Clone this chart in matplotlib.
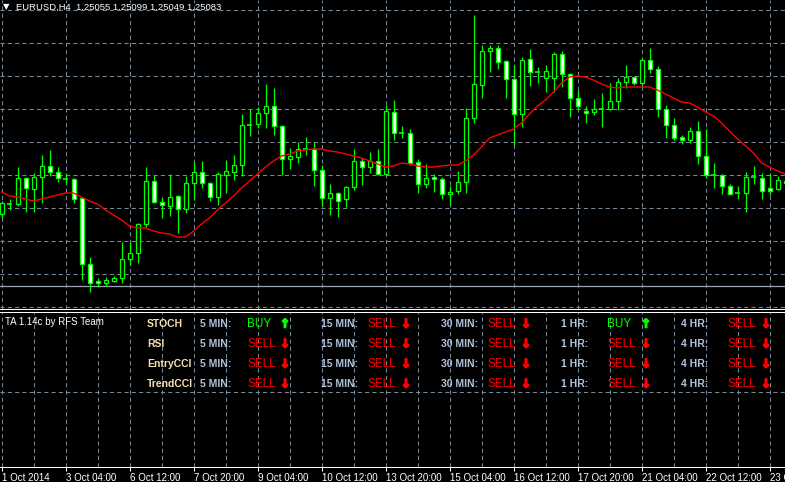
import matplotlib
matplotlib.use('Agg')
import matplotlib.pyplot as plt
import matplotlib.patheffects as pe
import numpy as np

plt.rcParams['font.family'] = ['Liberation Sans', 'DejaVu Sans']

symbol = 'EURUSD,H4'

# H4 bars
opens = [1.2475, 1.2485, 1.2485, 1.2511, 1.2500, 1.2512, 1.2523, 1.2517, 1.2510, 1.2510,
         1.2491, 1.2425, 1.2408, 1.2406, 1.2408, 1.2411, 1.2430, 1.2436, 1.2465, 1.2508,
         1.2487, 1.2483, 1.2493, 1.2480, 1.2506, 1.2517, 1.2506, 1.2492, 1.2514, 1.2517,
         1.2524, 1.2564, 1.2565, 1.2576, 1.2583, 1.2563, 1.2530, 1.2532, 1.2540, 1.2540,
         1.2519, 1.2491, 1.2496, 1.2490, 1.2502, 1.2528, 1.2522, 1.2528, 1.2515, 1.2577,
         1.2556, 1.2556, 1.2527, 1.2505, 1.2512, 1.2510, 1.2495, 1.2498, 1.2507, 1.2571,
         1.2604, 1.2638, 1.2641, 1.2628, 1.2610, 1.2575, 1.2630, 1.2617, 1.2611, 1.2611,
         1.2635, 1.2615, 1.2591, 1.2578, 1.2577, 1.2580, 1.2580, 1.2588, 1.2607, 1.2612,
         1.2606, 1.2629, 1.2620, 1.2580, 1.2564, 1.2552, 1.2549, 1.2558, 1.2533, 1.2514,
         1.2514, 1.2503, 1.2496, 1.2496, 1.2512, 1.2511, 1.2501, 1.2500, 1.25055]
highs = [1.2488, 1.2490, 1.2522, 1.2512, 1.2516, 1.2534, 1.2539, 1.2522, 1.2516, 1.2511,
         1.2492, 1.2432, 1.2411, 1.2412, 1.2413, 1.2447, 1.2447, 1.2466, 1.2522, 1.2514,
         1.2492, 1.2515, 1.2494, 1.2513, 1.2527, 1.2528, 1.2507, 1.2517, 1.2529, 1.2534,
         1.2575, 1.2580, 1.2582, 1.2605, 1.2601, 1.2564, 1.2541, 1.2547, 1.2552, 1.2547,
         1.2524, 1.2505, 1.2497, 1.2503, 1.2540, 1.2531, 1.2537, 1.2540, 1.2584, 1.2589,
         1.2563, 1.2560, 1.2530, 1.2525, 1.2515, 1.2512, 1.2503, 1.2518, 1.2581, 1.2674,
         1.2644, 1.2644, 1.2644, 1.2629, 1.2624, 1.2632, 1.2640, 1.2622, 1.2624, 1.2637,
         1.2638, 1.2616, 1.2599, 1.2583, 1.2590, 1.2596, 1.2606, 1.2611, 1.2624, 1.2613,
         1.2631, 1.2641, 1.2623, 1.2584, 1.2571, 1.2554, 1.2562, 1.2568, 1.2560, 1.2526,
         1.2515, 1.2505, 1.2503, 1.2517, 1.2523, 1.2516, 1.2516, 1.2513, 1.25099]
lows = [1.2471, 1.2479, 1.2483, 1.2477, 1.2477, 1.2486, 1.2513, 1.2507, 1.2505, 1.2486,
        1.2409, 1.2397, 1.2402, 1.2403, 1.2407, 1.2406, 1.2424, 1.2426, 1.2462, 1.2486,
        1.2471, 1.2473, 1.2456, 1.2476, 1.2489, 1.2501, 1.2488, 1.2484, 1.2496, 1.2509,
        1.2513, 1.2553, 1.2561, 1.2561, 1.2554, 1.2514, 1.2520, 1.2526, 1.2534, 1.2503,
        1.2483, 1.2474, 1.2472, 1.2482, 1.2499, 1.2504, 1.2516, 1.2514, 1.2514, 1.2549,
        1.2551, 1.2524, 1.2496, 1.2501, 1.2497, 1.2490, 1.2484, 1.2495, 1.2496, 1.2566,
        1.2591, 1.2617, 1.2620, 1.2591, 1.2544, 1.2562, 1.2603, 1.2606, 1.2597, 1.2597,
        1.2602, 1.2572, 1.2580, 1.2566, 1.2574, 1.2562, 1.2579, 1.2579, 1.2601, 1.2604,
        1.2602, 1.2616, 1.2572, 1.2551, 1.2549, 1.2545, 1.2546, 1.2525, 1.2511, 1.2501,
        1.2495, 1.2494, 1.2490, 1.2477, 1.2505, 1.2490, 1.2494, 1.2499, 1.25049]
closes = [1.2486, 1.2485, 1.2511, 1.2501, 1.2512, 1.2523, 1.2517, 1.2511, 1.2510, 1.2490,
          1.2425, 1.2406, 1.2406, 1.2409, 1.2411, 1.2430, 1.2436, 1.2465, 1.2508, 1.2487,
          1.2484, 1.2492, 1.2480, 1.2506, 1.2517, 1.2506, 1.2492, 1.2515, 1.2518, 1.2524,
          1.2564, 1.2564, 1.2576, 1.2583, 1.2563, 1.2530, 1.2533, 1.2540, 1.2540, 1.2519,
          1.2491, 1.2496, 1.2488, 1.2502, 1.2528, 1.2522, 1.2528, 1.2515, 1.2578, 1.2556,
          1.2556, 1.2526, 1.2505, 1.2511, 1.2510, 1.2495, 1.2497, 1.2507, 1.2571, 1.2605,
          1.2638, 1.2641, 1.2627, 1.2610, 1.2575, 1.2629, 1.2617, 1.2617, 1.2618, 1.2635,
          1.2615, 1.2591, 1.2583, 1.2576, 1.2580, 1.2580, 1.2588, 1.2607, 1.2612, 1.2606,
          1.2629, 1.2620, 1.2580, 1.2564, 1.2551, 1.2549, 1.2558, 1.2533, 1.2514, 1.2514,
          1.2503, 1.2495, 1.2496, 1.2512, 1.2512, 1.2498, 1.2498, 1.2509, 1.25083]
# red moving average
ma = [1.2497, 1.2493, 1.2492, 1.2490, 1.2488, 1.2490, 1.2492, 1.2494, 1.2496, 1.2496,
      1.2492, 1.2488, 1.2485, 1.2479, 1.2474, 1.2469, 1.2463, 1.2461, 1.2461, 1.2458,
      1.2456, 1.2455, 1.2452, 1.2452, 1.2458, 1.2465, 1.2471, 1.2479, 1.2486, 1.2493,
      1.2501, 1.2508, 1.2515, 1.2522, 1.2528, 1.2533, 1.2535, 1.2538, 1.2539, 1.2540,
      1.2540, 1.2538, 1.2537, 1.2535, 1.2533, 1.2531, 1.2528, 1.2525, 1.2522, 1.2523,
      1.2526, 1.2525, 1.2523, 1.2522, 1.2522, 1.2523, 1.2524, 1.2524, 1.2528, 1.2534,
      1.2542, 1.2551, 1.2554, 1.2557, 1.2560, 1.2566, 1.2575, 1.2583, 1.2589, 1.2597,
      1.2606, 1.2612, 1.2613, 1.2612, 1.2609, 1.2605, 1.2602, 1.2601, 1.2602, 1.2602,
      1.2602, 1.2602, 1.2599, 1.2595, 1.2591, 1.2587, 1.2586, 1.2582, 1.2577, 1.2573,
      1.2566, 1.2558, 1.2550, 1.2543, 1.2536, 1.2526, 1.2522, 1.2518, 1.2515]
hline_price = 1.2403

date_labels = ['1 Oct 2014', '3 Oct 04:00', '6 Oct 12:00', '7 Oct 20:00', '9 Oct 04:00',
               '10 Oct 12:00', '13 Oct 20:00', '15 Oct 04:00', '16 Oct 12:00',
               '17 Oct 20:00', '21 Oct 04:00', '22 Oct 12:00', '23 Oct 20:00']

# indicator panel
panel_title = 'TA 1.14c by RFS Team'
indicators = ['STOCH', 'RSI', 'EntryCCI', 'TrendCCI']
timeframes = ['5 MIN:', '15 MIN:', '30 MIN:', '1 HR:', '4 HR:']
signals = [['BUY', 'SELL', 'SELL', 'BUY', 'SELL'],
           ['SELL', 'SELL', 'SELL', 'SELL', 'SELL'],
           ['SELL', 'SELL', 'SELL', 'SELL', 'SELL'],
           ['SELL', 'SELL', 'SELL', 'SELL', 'SELL']]

W, H = 785, 482
GREEN = '#00ff00'
GRID = '#778899'
dash = (0, (4, 3))

o = np.array(opens); hi = np.array(highs); lo = np.array(lows); c = np.array(closes)
x = np.arange(len(o))

fig = plt.figure(figsize=(W / 100, H / 100), dpi=100, facecolor='black')
ax = fig.add_axes([0, 1 - 309 / H, 1, 309 / H], facecolor='black')
ax2 = fig.add_axes([0, 1 - 467 / H, 1, 155 / H], facecolor='black', sharex=ax)

# main chart
ax.set_xlim(-0.1875, 97.9375)
ax.set_ylim(1.2380, 1.2689)
ax.set_yticks(np.arange(1.2382, 1.2690, 0.0033))
ax.set_xticks(range(0, 98, 4))
ax.tick_params(length=0, labelbottom=False, labelleft=False)
ax.grid(True, color=GRID, linestyle=dash, linewidth=0.75)
ax.set_axisbelow(True)
for s in ['top', 'left', 'right']:
    ax.spines[s].set_visible(False)
ax.spines['bottom'].set_color('white')
ax.spines['bottom'].set_linewidth(0.75)

ax.axhline(hline_price, color='#9aa5b8', linewidth=0.9, zorder=1)

ax.vlines(x, lo, hi, color=GREEN, linewidth=0.9, zorder=2)
doji = c == o
body = ~doji
ax.bar(x[body], np.abs(c - o)[body], bottom=np.minimum(o, c)[body], width=0.5,
       color=np.where(c[body] < o[body], 'white', 'black'), edgecolor=GREEN,
       linewidth=0.9, zorder=3)
ax.hlines(o[doji], x[doji] - 0.3, x[doji] + 0.3, color=GREEN, linewidth=1.2, zorder=3)
ax.plot(x, ma, color='#ff0000', linewidth=1.0, zorder=4)

last = (opens[-1], highs[-1], lows[-1], closes[-1])
title = symbol + '  ' + ' '.join(f'{v:.5f}' for v in last)
fig.text(3 / W, 1 - 7 / H, '\u25bc', color='white', fontsize=6, va='center',
         family=['DejaVu Sans'])
fig.text(16 / W, 1 - 7.5 / H, title, color='white', fontsize=6.8, va='center')

# indicator sub window
ax2.set_ylim(467, 312)
ax2.set_yticks([392])
ax2.set_xticks(range(0, 98, 8))
ax2.set_xticklabels(date_labels, ha='left')
ax2.set_xticks(range(4, 98, 8), minor=True)
ax2.tick_params(axis='x', which='major', colors='white', direction='out', length=3,
                width=0.75, pad=1, labelsize=7)
ax2.tick_params(axis='x', which='minor', length=0)
ax2.tick_params(axis='y', length=0, labelleft=False)
ax2.grid(True, which='both', color=GRID, linestyle=dash, linewidth=0.75)
for s in ['left', 'right']:
    ax2.spines[s].set_visible(False)
for s in ['top', 'bottom']:
    ax2.spines[s].set_color('white')
    ax2.spines[s].set_linewidth(0.75)

fig.text(5 / W, 1 - 322 / H, panel_title, color='white', fontsize=7, va='center')
row_y = [324, 344, 364, 384]
name_x = 147
tf_x = [200, 321, 441, 561, 681]
sig_x = [247, 368, 487, 607, 727]
arrow_x = [285, 406, 526, 646, 766]
for r, name in enumerate(indicators):
    yy = 1 - row_y[r] / H
    fig.text(name_x / W, yy, name, color='#f5deb3', fontsize=7.5, fontweight='bold',
             va='center')
    for k, tf in enumerate(timeframes):
        fig.text(tf_x[k] / W, yy, tf, color='#b0c4de', fontsize=7.5, fontweight='bold',
                 va='center')
        sig = signals[r][k]
        col = GREEN if sig == 'BUY' else '#ff0000'
        fig.text(sig_x[k] / W, yy, sig, color=col, fontsize=8.5, va='center')
        fig.text(arrow_x[k] / W, yy, '\u2191' if sig == 'BUY' else '\u2193', color=col,
                 fontsize=8.5, fontweight='bold', ha='center', va='center',
                 family=['DejaVu Sans'],
                 path_effects=[pe.withStroke(linewidth=1.2, foreground=col)])

fig.savefig('out.png', dpi=100, facecolor='black')
